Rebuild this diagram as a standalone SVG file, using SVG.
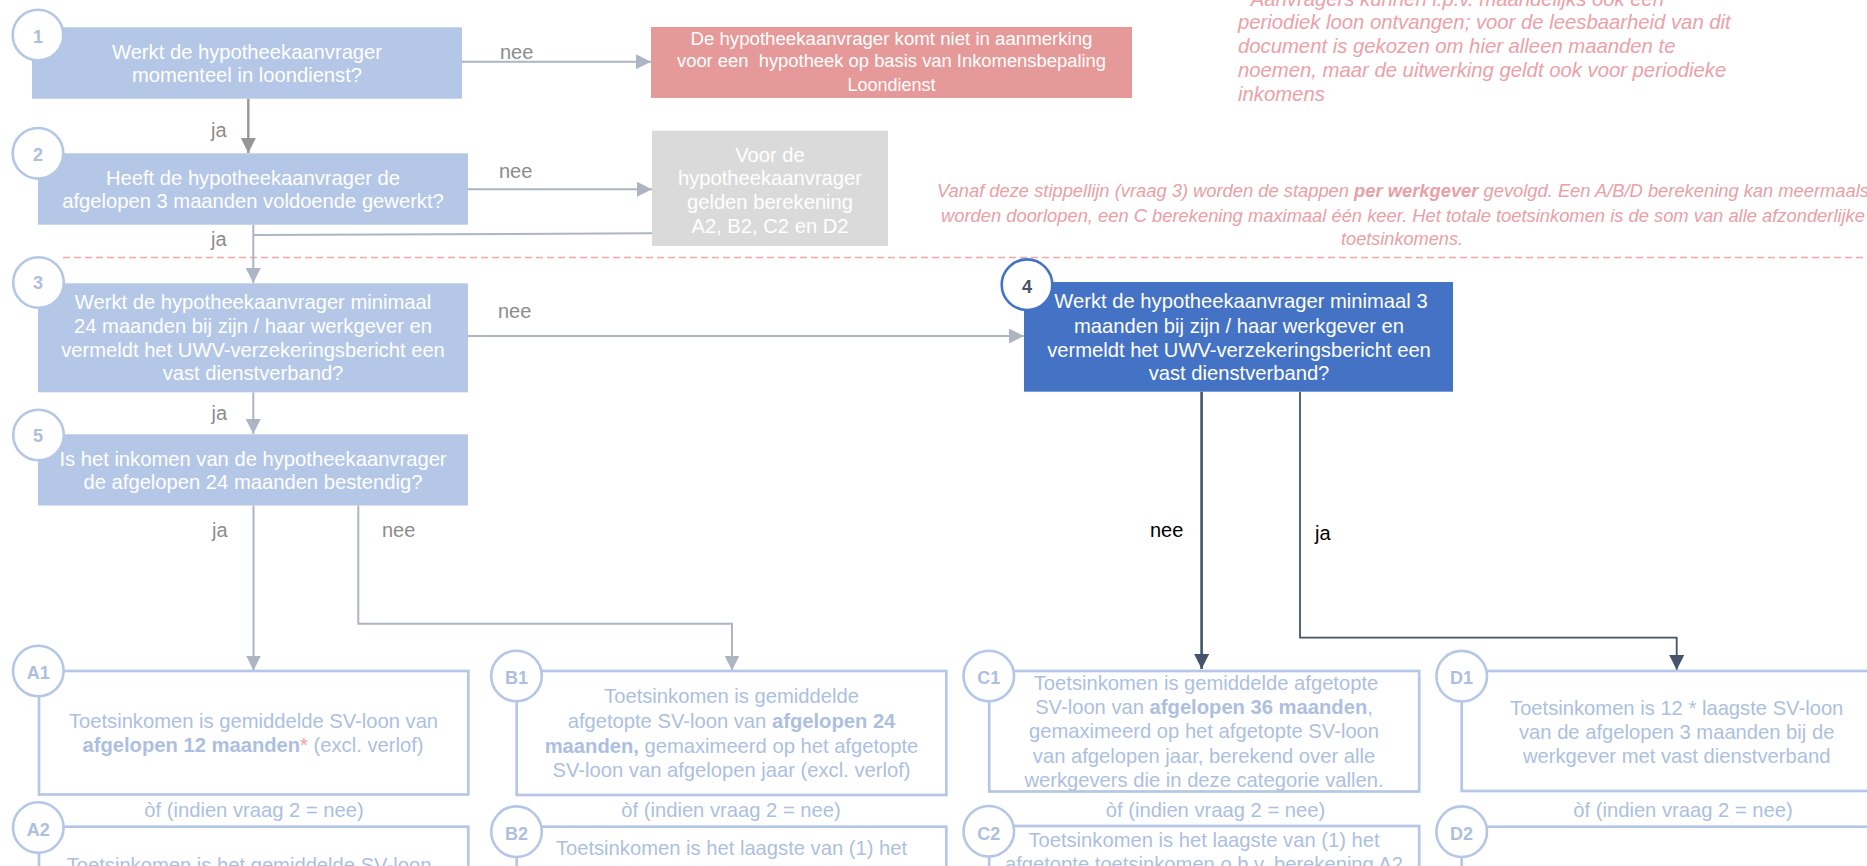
<svg xmlns="http://www.w3.org/2000/svg" width="1867" height="866" viewBox="0 0 1867 866">
<defs>
<style>
text{font-family:"Liberation Sans",Arial,sans-serif}
.bx{fill:#B4C7E7}
.wt{font-size:20.2px;fill:#FFFFFF;text-anchor:middle}
.num{font-size:18px;font-weight:bold;fill:#ADBFE0;text-anchor:middle}
.cir{fill:#FFFFFF;stroke:#B4C7E7;stroke-width:2.6}
.ob{fill:none;stroke:#B4C7E7;stroke-width:2.7}
.lt{font-size:20.2px;fill:#ADBFE0;text-anchor:middle}
.b{font-weight:bold}
.lbl{font-size:20px;fill:#8C8C8C}
.blk{font-size:20px;fill:#000000}
.pk{font-size:20.3px;font-style:italic;fill:#EBA1A9}
.pk2{font-size:18.5px;font-style:italic;fill:#E9A0A7}
.cg{fill:none;stroke:#ADB5C2;stroke-width:2}
.cd{fill:none;stroke:#969696;stroke-width:2.4}
.cn{fill:none;stroke:#44546A}
</style>
<marker id="ag" markerUnits="userSpaceOnUse" markerWidth="16" markerHeight="15" refX="15" refY="7.5" orient="auto"><path d="M0,0 L15,7.5 L0,15 z" fill="#ADB5C2"/></marker>
<marker id="ad" markerUnits="userSpaceOnUse" markerWidth="16" markerHeight="15" refX="15" refY="7.5" orient="auto"><path d="M0,0 L15,7.5 L0,15 z" fill="#969696"/></marker>
<marker id="an" markerUnits="userSpaceOnUse" markerWidth="16" markerHeight="15" refX="15" refY="7.5" orient="auto"><path d="M0,0 L15,7.5 L0,15 z" fill="#44546A"/></marker>
</defs>
<rect width="1867" height="866" fill="#FFFFFF"/>

<!-- notes -->
<g id="note-footnote" class="pk">
<text x="1238" y="5.5">* Aanvragers kunnen i.p.v. maandelijks ook een</text>
<text x="1238" y="29.3">periodiek loon ontvangen; voor de leesbaarheid van dit</text>
<text x="1238" y="53.2">document is gekozen om hier alleen maanden te</text>
<text x="1238" y="77">noemen, maar de uitwerking geldt ook voor periodieke</text>
<text x="1238" y="100.8">inkomens</text>
</g>
<g id="note-dashed">
<line x1="63" y1="257.5" x2="1867" y2="257.5" stroke="#F4A7A7" stroke-width="1.3" stroke-dasharray="7 4"/>
<text class="pk2" x="937" y="197.3" textLength="932" lengthAdjust="spacingAndGlyphs">Vanaf deze stippellijn (vraag 3) worden de stappen <tspan class="b">per werkgever</tspan> gevolgd. Een A/B/D berekening kan meermaals</text>
<text class="pk2" x="941" y="221.5" textLength="924" lengthAdjust="spacingAndGlyphs">worden doorlopen, een C berekening maximaal één keer. Het totale toetsinkomen is de som van alle afzonderlijke</text>
<text class="pk2" x="1341" y="244.5" textLength="122" lengthAdjust="spacingAndGlyphs">toetsinkomens.</text>
</g>

<!-- connectors -->
<g id="connectors">
<line class="cg" x1="462" y1="61.7" x2="651" y2="61.7" marker-end="url(#ag)"/>
<line class="cd" x1="248.3" y1="98.7" x2="248.3" y2="153" marker-end="url(#ad)"/>
<line class="cg" x1="468" y1="189.3" x2="652" y2="189.3" marker-end="url(#ag)"/>
<line class="cg" x1="253.3" y1="224.7" x2="253.3" y2="283" marker-end="url(#ag)"/>
<line class="cg" x1="253.3" y1="235" x2="652" y2="233.3"/>
<line class="cg" x1="468" y1="336" x2="1024" y2="336" marker-end="url(#ag)"/>
<line class="cg" x1="253.3" y1="392.3" x2="253.3" y2="434" marker-end="url(#ag)"/>
<line class="cg" x1="253.5" y1="505.5" x2="253.5" y2="670.5" marker-end="url(#ag)"/>
<polyline class="cg" points="358.3,505.5 358.3,623.7 732,623.7 732,670.5" marker-end="url(#ag)"/>
<line class="cn" stroke-width="2.6" x1="1201.6" y1="391.7" x2="1201.6" y2="669" marker-end="url(#an)"/>
<polyline class="cn" stroke-width="1.8" points="1300,391.7 1300,637.7 1676.7,637.7 1676.7,670" marker-end="url(#an)"/>
<text class="lbl" x="500" y="59">nee</text>
<text class="lbl" x="211" y="137">ja</text>
<text class="lbl" x="499" y="177.5">nee</text>
<text class="lbl" x="211" y="245.5">ja</text>
<text class="lbl" x="498" y="318">nee</text>
<text class="lbl" x="211.5" y="420">ja</text>
<text class="lbl" x="212" y="537">ja</text>
<text class="lbl" x="382" y="537">nee</text>
<text class="blk" x="1150" y="537">nee</text>
<text class="blk" x="1315" y="540">ja</text>
</g>

<!-- question nodes -->
<g id="n1">
<rect class="bx" x="32" y="27.3" width="430" height="71.4"/>
<circle class="cir" cx="38" cy="35" r="25.3"/>
<text class="num" x="38" y="43">1</text>
<text class="wt" x="247" y="58.5">Werkt de hypotheekaanvrager</text>
<text class="wt" x="247" y="81.8">momenteel in loondienst?</text>
</g>
<g id="n2">
<rect class="bx" x="38" y="153.3" width="430" height="71.4"/>
<circle class="cir" cx="38" cy="153.3" r="25.3"/>
<text class="num" x="38" y="160.5">2</text>
<text class="wt" x="253" y="185">Heeft de hypotheekaanvrager de</text>
<text class="wt" x="253" y="208.4">afgelopen 3 maanden voldoende gewerkt?</text>
</g>
<g id="n3">
<rect class="bx" x="38" y="283.3" width="430" height="109"/>
<circle class="cir" cx="38.5" cy="282.5" r="25.3"/>
<text class="num" x="38" y="289">3</text>
<text class="wt" x="253" y="309.3">Werkt de hypotheekaanvrager minimaal</text>
<text class="wt" x="253" y="332.8">24 maanden bij zijn / haar werkgever en</text>
<text class="wt" x="253" y="356.6">vermeldt het UWV-verzekeringsbericht een</text>
<text class="wt" x="253" y="380">vast dienstverband?</text>
</g>
<g id="n4">
<rect x="1024" y="282" width="429" height="109.7" fill="#4472C4"/>
<circle cx="1027" cy="284.7" r="25.3" fill="#FFFFFF" stroke="#4472C4" stroke-width="2.6"/>
<text x="1027" y="292.5" font-size="18" font-weight="bold" fill="#44546A" text-anchor="middle">4</text>
<text class="wt" x="1241" y="308.3">Werkt de hypotheekaanvrager minimaal 3</text>
<text class="wt" x="1239" y="333">maanden bij zijn / haar werkgever en</text>
<text class="wt" x="1239" y="356.6">vermeldt het UWV-verzekeringsbericht een</text>
<text class="wt" x="1239" y="380">vast dienstverband?</text>
</g>
<g id="n5">
<rect class="bx" x="38" y="434.3" width="430" height="71.2"/>
<circle class="cir" cx="38.5" cy="435" r="25.3"/>
<text class="num" x="38" y="442">5</text>
<text class="wt" x="253" y="465.5">Is het inkomen van de hypotheekaanvrager</text>
<text class="wt" x="253" y="489">de afgelopen 24 maanden bestendig?</text>
</g>
<g id="n-reject">
<rect x="651" y="27" width="481" height="71" fill="#E59A99"/>
<text x="891.5" y="44.5" font-size="18" fill="#FFFFFF" text-anchor="middle" textLength="402" lengthAdjust="spacingAndGlyphs">De hypotheekaanvrager komt niet in aanmerking</text>
<text x="891.5" y="67" font-size="18" fill="#FFFFFF" text-anchor="middle" textLength="429" lengthAdjust="spacingAndGlyphs" xml:space="preserve">voor een  hypotheek op basis van Inkomensbepaling</text>
<text x="891.5" y="90.5" font-size="18" fill="#FFFFFF" text-anchor="middle" textLength="88" lengthAdjust="spacingAndGlyphs">Loondienst</text>
</g>
<g id="n-gray">
<rect x="652" y="130.7" width="236" height="115.3" fill="#DADADA"/>
<text class="wt" x="770" y="161.7">Voor de</text>
<text class="wt" x="770" y="185">hypotheekaanvrager</text>
<text class="wt" x="770" y="208.5">gelden berekening</text>
<text class="wt" x="770" y="232.5">A2, B2, C2 en D2</text>
</g>

<!-- outcome nodes -->
<g id="A1">
<rect class="ob" x="39" y="671" width="429.3" height="123.5"/>
<circle class="cir" cx="38.3" cy="671" r="25.3"/>
<text class="num" x="38.3" y="679">A1</text>
<text class="lt" x="253.5" y="728.3">Toetsinkomen is gemiddelde SV-loon van</text>
<text class="lt" x="253" y="752.3"><tspan class="b">afgelopen 12 maanden</tspan><tspan fill="#F0A0A0">*</tspan> (excl. verlof)</text>
<text class="lt" x="254" y="817.3">òf (indien vraag 2 = nee)</text>
</g>
<g id="A2">
<rect class="ob" x="39" y="826.7" width="429.3" height="100"/>
<circle class="cir" cx="38.3" cy="827.5" r="25.3"/>
<text class="num" x="38.3" y="835.5">A2</text>
<text class="lt" x="249" y="872">Toetsinkomen is het gemiddelde SV-loon</text>
</g>
<g id="B1">
<rect class="ob" x="516.7" y="671" width="429.6" height="124"/>
<circle class="cir" cx="516.5" cy="676" r="25.3"/>
<text class="num" x="516.5" y="684">B1</text>
<text class="lt" x="731.5" y="703.3">Toetsinkomen is gemiddelde</text>
<text class="lt" x="731.5" y="728.3">afgetopte SV-loon van <tspan class="b">afgelopen 24</tspan></text>
<text class="lt" x="731.5" y="752.7"><tspan class="b">maanden,</tspan> gemaximeerd op het afgetopte</text>
<text class="lt" x="731.5" y="776.7">SV-loon van afgelopen jaar (excl. verlof)</text>
<text class="lt" x="731" y="817.3">òf (indien vraag 2 = nee)</text>
</g>
<g id="B2">
<rect class="ob" x="516.7" y="826.7" width="429.6" height="100"/>
<circle class="cir" cx="516.5" cy="831.7" r="25.3"/>
<text class="num" x="516.5" y="840">B2</text>
<text class="lt" x="731.5" y="855">Toetsinkomen is het laagste van (1) het</text>
</g>
<g id="C1">
<rect class="ob" x="989.2" y="671" width="430" height="120.5"/>
<circle class="cir" cx="988.8" cy="676" r="25.3"/>
<text class="num" x="988.8" y="684">C1</text>
<text class="lt" x="1206" y="690">Toetsinkomen is gemiddelde afgetopte</text>
<text class="lt" x="1204" y="714">SV-loon van <tspan class="b">afgelopen 36 maanden</tspan>,</text>
<text class="lt" x="1204" y="738.3">gemaximeerd op het afgetopte SV-loon</text>
<text class="lt" x="1204" y="762.7">van afgelopen jaar, berekend over alle</text>
<text class="lt" x="1204" y="786.7">werkgevers die in deze categorie vallen.</text>
<text class="lt" x="1215.5" y="816.7">òf (indien vraag 2 = nee)</text>
</g>
<g id="C2">
<rect class="ob" x="989.2" y="826" width="430" height="100"/>
<circle class="cir" cx="988.8" cy="831.3" r="25.3"/>
<text class="num" x="988.8" y="840">C2</text>
<text class="lt" x="1204" y="847">Toetsinkomen is het laagste van (1) het</text>
<text class="lt" x="1204" y="871">afgetopte toetsinkomen o.b.v. berekening A2</text>
</g>
<g id="D1">
<rect class="ob" x="1461.7" y="671" width="430" height="120"/>
<circle class="cir" cx="1461.7" cy="676.2" r="25.3"/>
<text class="num" x="1461.5" y="684">D1</text>
<text class="lt" x="1676.7" y="715">Toetsinkomen is 12 * laagste SV-loon</text>
<text class="lt" x="1676.7" y="739">van de afgelopen 3 maanden bij de</text>
<text class="lt" x="1676.7" y="763.3">werkgever met vast dienstverband</text>
<text class="lt" x="1683" y="817.3">òf (indien vraag 2 = nee)</text>
</g>
<g id="D2">
<rect class="ob" x="1461.7" y="826.7" width="430" height="100"/>
<circle class="cir" cx="1461.7" cy="831.7" r="25.3"/>
<text class="num" x="1461.5" y="840">D2</text>
</g>
</svg>
